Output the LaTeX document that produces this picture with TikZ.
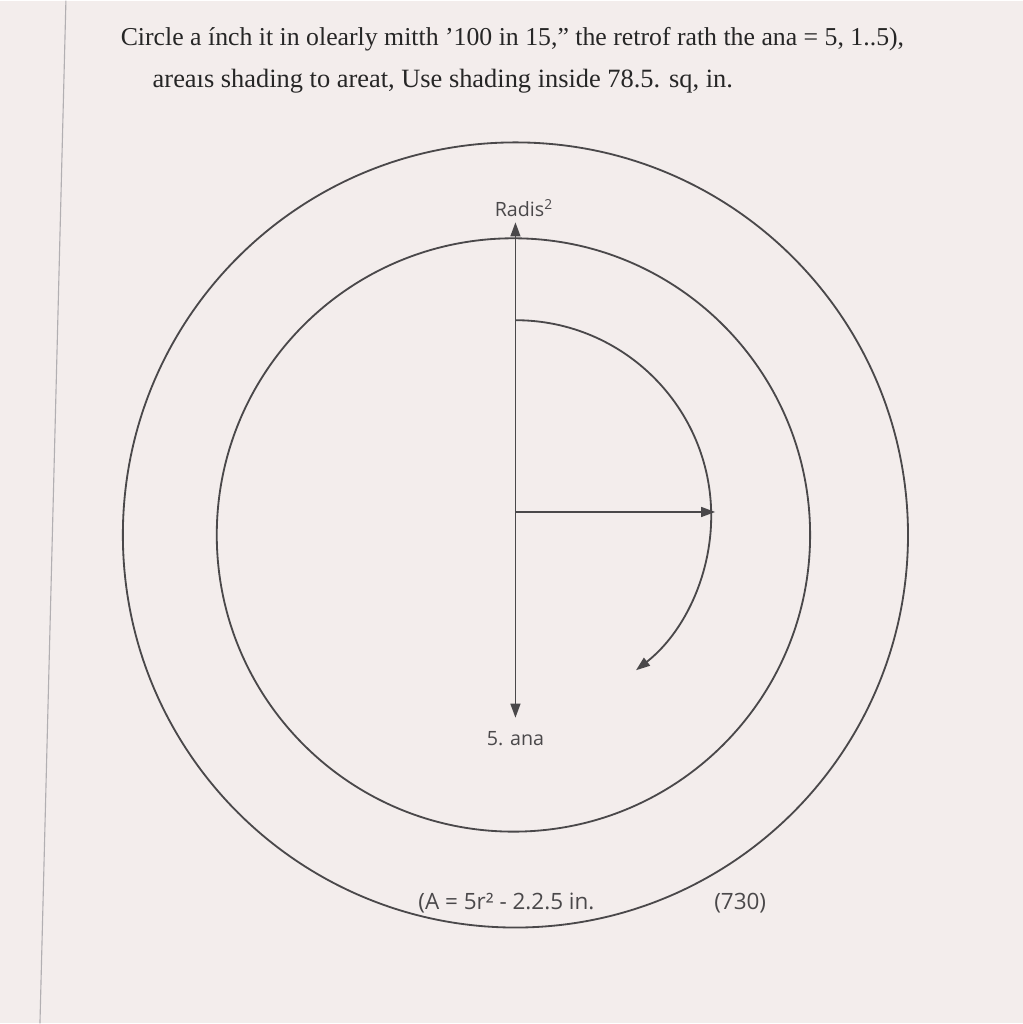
\documentclass[tikz,border=0pt]{standalone}
\usepackage{fontspec}
\setmainfont{Liberation Serif}
\newfontfamily\labelfont{Open Sans}
\usetikzlibrary{arrows.meta}
\definecolor{paper}{RGB}{243,237,236}
\definecolor{ink}{RGB}{74,72,74}
\definecolor{margin}{RGB}{178,175,178}
\tikzset{
  lbl/.style={font=\labelfont\fontsize{14}{16}\selectfont, text=ink},
  biglbl/.style={font=\labelfont\fontsize{16}{18}\selectfont, text=ink, inner sep=0pt},
  head/.style={anchor=base west, inner sep=0pt, font=\fontsize{#1}{22}\selectfont, text=black!85},
  head/.default=18.8
}

\begin{document}
\begin{tikzpicture}[x=0.025cm, y=0.025cm, >={Triangle[length=10pt,width=7pt]}, ink, line width=1.3pt]
  \fill[paper] (0,0) rectangle (1024,1024);
  \draw[margin, line width=0.8pt] (66,1024) -- (40,0);
  % heading
  \node[head=18.35] (line1) at (120,979) {Circle a ínch it in olearly mitth ’100 in 15,” the retrof rath the ana = 5, 1..5),};
  \node[head] (line2) at (152,937) {areaıs shading to areat, Use shading inside 78.5. sq, in.};
  % circles
  \coordinate (ctr) at (516,489);
  \draw (ctr) circle[radius=393];
  \draw (514,489) circle[radius=297];
  % radius arrows
  \coordinate (top) at (516,802);
  \coordinate (bot) at (516,306);
  \coordinate (hub) at (516,512);
  \coordinate (rim) at (716,512);
  \draw[<->] (bot) -- (top);
  \draw[->] (hub) -- (rim);
  \draw[->] (516,704) arc[start angle=90, end angle=-52, radius=196];
  % labels
  \node[lbl, anchor=south] (radlbl) at ([xshift=6]top) {Radis\textsuperscript{2}};
  \node[lbl, anchor=north] (analbl) at ([yshift=-6]bot) {5. ana};
  \node[biglbl, anchor=base west] (arealbl) at (418,114) {(A = 5r² - 2.2.5 in.};
  \node[biglbl, anchor=base] (numlbl) at (741,114) {(730)};
\end{tikzpicture}
\end{document}
